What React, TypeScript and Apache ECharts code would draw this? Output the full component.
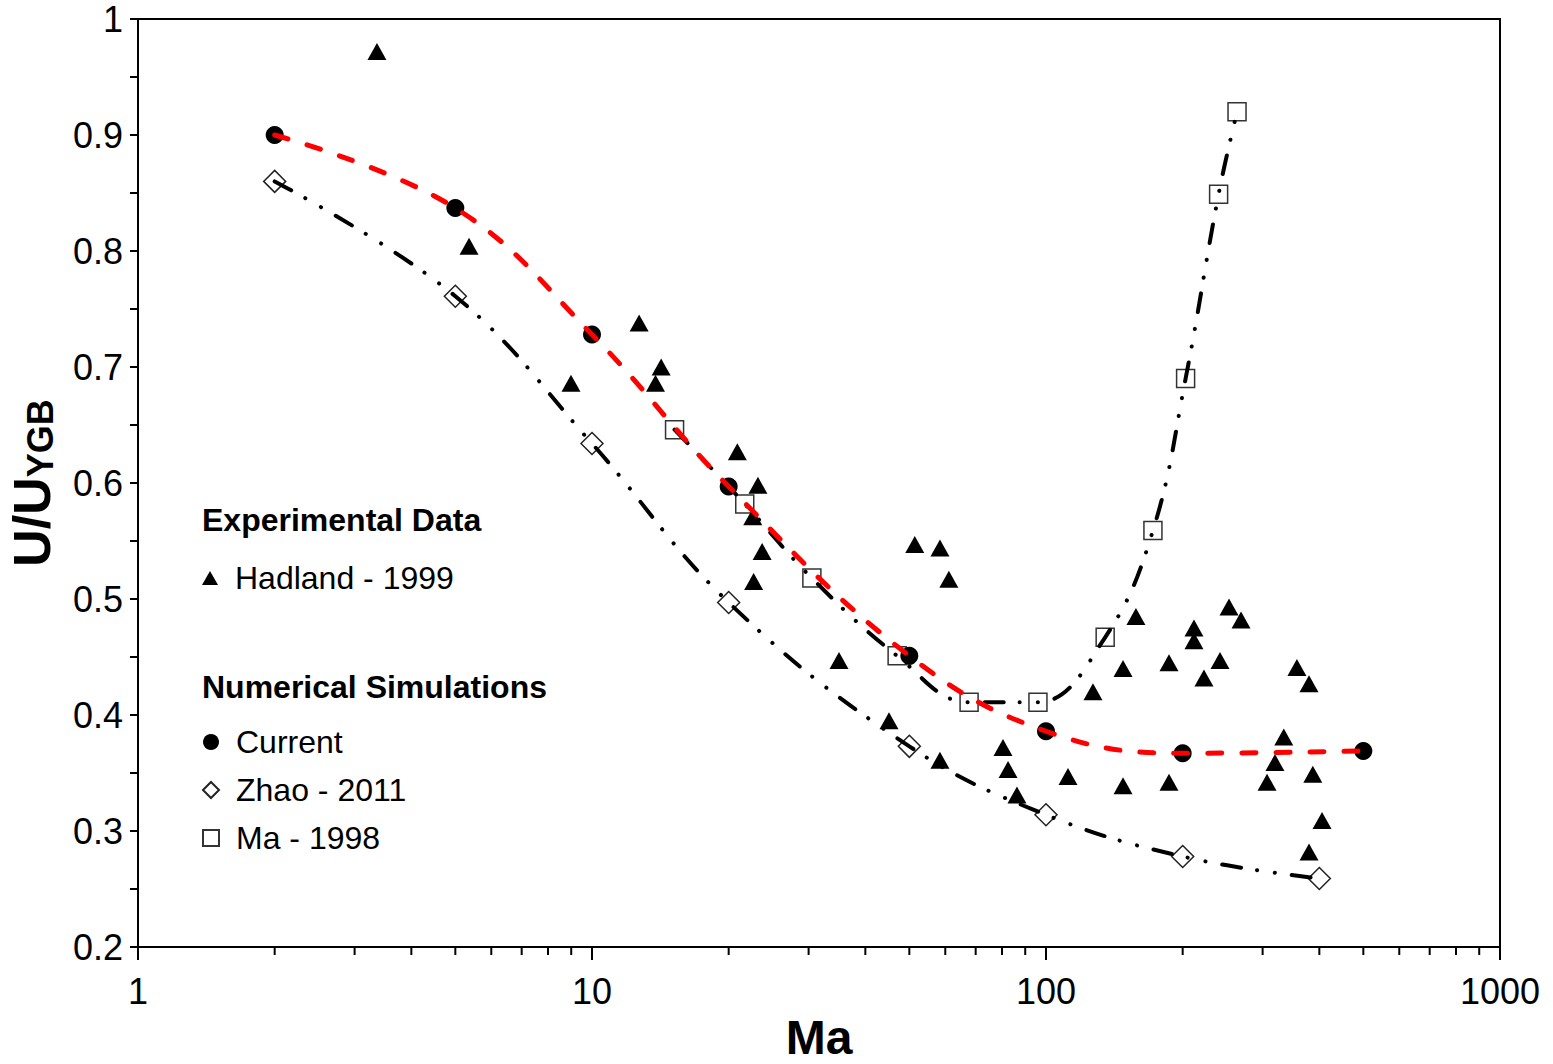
import React, { useEffect, useRef } from "react";
import * as echarts from "echarts";

const FONT = "'Liberation Sans', Arial, Helvetica, sans-serif";

// Hadland - 1999 experimental data
const hadlandX = [3.36, 5.36, 12.7, 8.99, 14.2, 13.8, 20.9, 23.2, 22.6, 23.7, 22.7, 35, 51.4, 58.4, 61.1, 45.1, 58.4, 80.4, 82.5, 86.3, 111.8, 126.9, 147.8, 147.8, 157.8, 186.6, 186.6, 211.8, 211.8, 222.8, 241.7, 253, 268.9, 306.8, 319.4, 334, 357, 379.6, 387, 405.5, 379.6];
const hadlandY = [0.972, 0.804, 0.738, 0.686, 0.7, 0.686, 0.627, 0.598, 0.571, 0.541, 0.515, 0.447, 0.547, 0.544, 0.517, 0.395, 0.361, 0.372, 0.353, 0.331, 0.347, 0.42, 0.44, 0.339, 0.485, 0.445, 0.342, 0.475, 0.464, 0.432, 0.447, 0.493, 0.482, 0.342, 0.359, 0.381, 0.441, 0.427, 0.349, 0.309, 0.282];

// Numerical simulations
const currentX = [2, 5, 10, 20, 50, 100, 200, 500];
const currentY = [0.9, 0.837, 0.728, 0.597, 0.451, 0.386, 0.367, 0.369];

const zhaoX = [2, 5, 10, 20, 50, 100, 200, 400];
const zhaoY = [0.86, 0.761, 0.634, 0.497, 0.373, 0.314, 0.278, 0.259];

const maX = [15.2, 21.7, 30.5, 47, 67.7, 96, 135, 172, 203, 240, 263.5];
const maY = [0.646, 0.582, 0.518, 0.451, 0.411, 0.411, 0.467, 0.559, 0.69, 0.849, 0.92];

// axis
const xMinorTicks = [2, 3, 4, 5, 6, 7, 8, 9, 20, 30, 40, 50, 60, 70, 80, 90, 200, 300, 400, 500, 600, 700, 800, 900];

const zip = (xs: number[], ys: number[]) => xs.map((x, i) => [x, ys[i]]);

const dashDotDot = [19, 16, 0.1, 18, 0.1, 17];

const legendText = { fontSize: 32, color: "#000", fontFamily: FONT, padding: [0, 0, 0, 12] };

export default function App() {
  const ref = useRef<HTMLDivElement>(null);

  useEffect(() => {
    if (!ref.current) return;
    const chart = echarts.init(ref.current, null, { renderer: "svg" });
    const option: any = {
      animation: false,
      backgroundColor: "#fff",
      textStyle: { fontFamily: FONT },
      grid: {
        left: 138,
        right: 53,
        top: 19,
        bottom: 117,
        show: true,
        borderColor: "#000",
        borderWidth: 2,
        containLabel: false,
        outerBoundsMode: "none",
      },
      xAxis: {
        type: "log",
        logBase: 10,
        min: 1,
        max: 1000,
        name: "Ma",
        nameLocation: "middle",
        nameGap: 58,
        nameTextStyle: { fontSize: 48, lineHeight: 48, fontWeight: "bold", color: "#000", fontFamily: FONT },
        axisLine: { show: true, lineStyle: { color: "#000", width: 2 } },
        axisTick: { show: true, inside: false, length: 13, lineStyle: { color: "#000", width: 2 } },
        minorTick: { show: false },
        splitLine: { show: false },
        axisLabel: {
          fontSize: 36,
          color: "#000",
          fontFamily: FONT,
          margin: 26,
          formatter: (v: number) => String(Math.round(v)),
        },
      },
      yAxis: {
        type: "value",
        min: 0.2,
        max: 1,
        interval: 0.1,
        name: "{a|U/U}{b|YGB}",
        nameLocation: "middle",
        nameRotate: 90,
        nameGap: 80,
        nameTextStyle: {
          rich: {
            a: { fontSize: 52, fontWeight: "bold", color: "#000", fontFamily: FONT, verticalAlign: "bottom" },
            b: { fontSize: 36, fontWeight: "bold", color: "#000", fontFamily: FONT, verticalAlign: "bottom" },
          },
        },
        axisLine: { show: true, lineStyle: { color: "#000", width: 2 } },
        axisTick: { show: true, inside: false, length: 8, lineStyle: { color: "#000", width: 2 } },
        minorTick: { show: true, splitNumber: 2, length: 8, lineStyle: { color: "#000", width: 2 } },
        splitLine: { show: false },
        minorSplitLine: { show: false },
        axisLabel: {
          fontSize: 36,
          color: "#000",
          fontFamily: FONT,
          margin: 15,
          formatter: (v: number) => String(Math.round(v * 10) / 10),
        },
      },
      legend: [
        {
          data: ["Hadland - 1999"],
          left: 202,
          top: 562,
          padding: 0,
          orient: "vertical",
          itemWidth: 16,
          itemHeight: 14,
          selectedMode: false,
          textStyle: legendText,
        },
        {
          data: ["Current", "Zhao - 2011", "Ma - 1998"],
          left: 202,
          top: 726,
          padding: 0,
          orient: "vertical",
          itemGap: 16,
          itemWidth: 16,
          itemHeight: 16,
          selectedMode: false,
          textStyle: legendText,
        },
      ],
      graphic: [
        {
          type: "text",
          x: 202,
          y: 520,
          silent: true,
          style: {
            text: "Experimental Data",
            fontSize: 32,
            fontWeight: "bold",
            fontFamily: FONT,
            fill: "#000",
            align: "left",
            verticalAlign: "middle",
          },
        },
        {
          type: "text",
          x: 202,
          y: 687,
          silent: true,
          style: {
            text: "Numerical Simulations",
            fontSize: 32,
            fontWeight: "bold",
            fontFamily: FONT,
            fill: "#000",
            align: "left",
            verticalAlign: "middle",
          },
        },
      ],
      series: [
        {
          name: "xMinorTicks",
          type: "custom",
          silent: true,
          clip: false,
          data: xMinorTicks.map((v) => [v, 0.2]),
          renderItem: (params: any, api: any) => {
            const p = api.coord([api.value(0), api.value(1)]);
            return {
              type: "line",
              shape: { x1: p[0], y1: p[1], x2: p[0], y2: p[1] + 8 },
              style: { stroke: "#000", lineWidth: 2 },
            };
          },
          z: 1,
        },
        {
          name: "Zhao - 2011",
          type: "scatter",
          data: zip(zhaoX, zhaoY),
          symbol: "diamond",
          symbolSize: 22,
          itemStyle: { color: "rgba(255,255,255,0)", borderColor: "#222", borderWidth: 1.5, opacity: 1 },
          z: 2,
        },
        {
          name: "Ma - 1998",
          type: "scatter",
          data: zip(maX, maY),
          symbol: "rect",
          symbolSize: 18,
          itemStyle: { color: "rgba(255,255,255,0)", borderColor: "#333", borderWidth: 1.5, opacity: 1 },
          z: 2,
        },
        {
          name: "Current",
          type: "scatter",
          data: zip(currentX, currentY),
          symbol: "circle",
          symbolSize: 18,
          itemStyle: { color: "#000", opacity: 1 },
          z: 2,
        },
        {
          name: "Hadland - 1999",
          type: "scatter",
          data: zip(hadlandX, hadlandY),
          symbol: "triangle",
          symbolSize: [19, 17],
          itemStyle: { color: "#000", opacity: 1 },
          z: 2,
        },
        {
          name: "Zhao fit",
          type: "line",
          data: zip(zhaoX, zhaoY),
          smooth: 0.4,
          showSymbol: false,
          symbol: "none",
          silent: true,
          lineStyle: { color: "#000", width: 4, type: dashDotDot, cap: "round" },
          z: 3,
        },
        {
          name: "Ma fit",
          type: "line",
          data: zip(maX, maY),
          smooth: 0.4,
          showSymbol: false,
          symbol: "none",
          silent: true,
          lineStyle: { color: "#000", width: 4, type: dashDotDot, cap: "round" },
          z: 3,
        },
        {
          name: "Current fit",
          type: "line",
          data: zip(currentX, currentY),
          smooth: 0.4,
          showSymbol: false,
          symbol: "none",
          silent: true,
          lineStyle: { color: "#ff0000", width: 5, type: [14, 20], cap: "round" },
          z: 4,
        },
      ],
    };
    chart.setOption(option);
    return () => chart.dispose();
  }, []);

  return (
    <div
      ref={ref}
      style={{ position: "fixed", left: 0, top: 0, width: 1553, height: 1064, background: "#fff" }}
    />
  );
}
